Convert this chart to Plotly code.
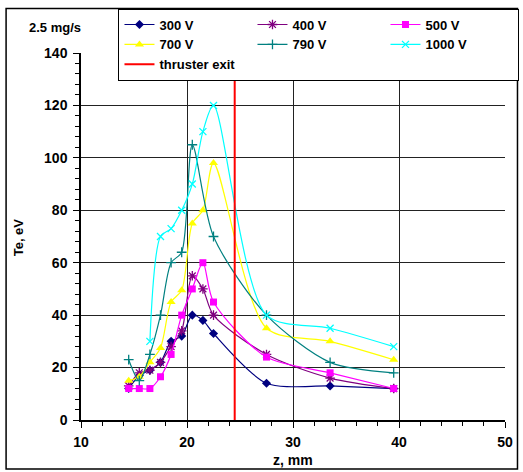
import plotly.graph_objects as go

# ---- data ----
z_main = [14.5, 15.5, 16.5, 17.5, 18.5, 19.5, 20.5, 21.5, 22.5, 27.5, 33.5, 39.5]
te_300 = [12, 17, 19, 22, 30, 32, 40, 38, 33, 14, 13, 12]
te_400 = [13, 18, 19, 22, 28, 34, 55, 50, 40, 25, 16, 12]
te_500 = [12, 12, 12, 16.5, 25, 40, 50, 60, 45, 24, 18, 12]
te_700 = [15, 16.5, 22, 27.5, 45, 49.5, 75, 80, 98, 35, 30, 23]
z_790 = [14.5, 15.5, 16.5, 17.5, 18.5, 19.5, 20.5, 22.5, 27.5, 33.5, 39.5]
te_790 = [23, 15, 25, 40, 60, 64, 105, 70, 40, 22, 18]
z_1000 = [16.5, 17.5, 18.5, 19.5, 20.5, 21.5, 22.5, 27.5, 33.5, 39.5]
te_1000 = [30, 70, 73, 80, 90, 110, 120, 40, 35, 28]
exit_z = [24.5, 24.5]
exit_te = [0, 140]

FONT = "Arial, Liberation Sans, sans-serif"

series = [
    ("300 V", z_main, te_300, "#000080", dict(symbol="diamond", size=7)),
    ("400 V", z_main, te_400, "#800080", dict(symbol="asterisk-open", size=8, line=dict(width=1.3, color="#800080"))),
    ("500 V", z_main, te_500, "#FF00FF", dict(symbol="square", size=7)),
    ("700 V", z_main, te_700, "#FFFF00", dict(symbol="triangle-up", size=8)),
    ("790 V", z_790, te_790, "#008080", dict(symbol="cross-thin-open", size=7, line=dict(width=1.3, color="#008080"))),
    ("1000 V", z_1000, te_1000, "#00FFFF", dict(symbol="x-thin-open", size=7, line=dict(width=1.3, color="#00FFFF"))),
]

fig = go.Figure()
for name, zx, ty, col, mk in series:
    mk = dict(mk)
    mk.setdefault("color", col)
    fig.add_trace(go.Scatter(
        x=zx, y=ty, name=name, mode="lines+markers",
        line=dict(color=col, width=1.2, shape="spline", smoothing=0.8),
        marker=mk,
    ))

fig.add_trace(go.Scatter(
    x=exit_z, y=exit_te, name="thruster exit", mode="lines",
    line=dict(color="#FF0000", width=2),
))

W, H = 523, 472
L, R, T, B = 81, 17.5, 52.5, 52
pw = W - L - R
ph = H - T - B

def px_x(p):
    return (p - L) / pw

def px_y(p):
    return (H - B - p) / ph

BOLD = dict(family=FONT, size=14, color="black", weight="bold")

fig.update_layout(
    width=W, height=H,
    margin=dict(l=L, r=R, t=T, b=B, pad=0, autoexpand=False),
    paper_bgcolor="white", plot_bgcolor="white",
    font=BOLD,
    showlegend=True,
    legend=dict(
        orientation="h",
        x=px_x(520), y=px_y(8), xanchor="right", yanchor="top",
        bgcolor="white", bordercolor="black", borderwidth=1,
        font=dict(family=FONT, size=13, color="black", weight="bold"),
        entrywidth=88, entrywidthmode="pixels",
        itemwidth=30, tracegroupgap=0,
    ),
    xaxis=dict(
        range=[10, 50], dtick=10, tick0=10,
        showgrid=True, gridcolor="#222222", gridwidth=1,
        showline=True, linecolor="black", linewidth=1.5,
        ticks="outside", ticklen=6, tickcolor="black",
        minor=dict(dtick=2, ticks="outside", ticklen=4, tickcolor="black", showgrid=False),
        tickfont=BOLD,
        ticklabelstandoff=2,
        zeroline=False,
    ),
    yaxis=dict(
        range=[0, 140], dtick=20,
        showgrid=True, gridcolor="#222222", gridwidth=1,
        showline=True, linecolor="black", linewidth=1.5,
        ticks="outside", ticklen=6, tickcolor="black",
        minor=dict(dtick=4, ticks="outside", ticklen=4, tickcolor="black", showgrid=False),
        tickfont=BOLD,
        ticklabelstandoff=3,
        zeroline=False,
    ),
)

fig.add_shape(type="rect", xref="paper", yref="paper",
              x0=px_x(6), x1=px_x(518), y0=px_y(469), y1=px_y(8),
              line=dict(color="black", width=1.5), fillcolor="rgba(0,0,0,0)", layer="below")

fig.add_annotation(text="2.5 mg/s", xref="paper", yref="paper",
                   x=px_x(55), y=px_y(27), xanchor="center", yanchor="middle",
                   showarrow=False,
                   font=dict(family=FONT, size=13, color="black", weight="bold"))
fig.add_annotation(text="z, mm", xref="paper", yref="paper",
                   x=px_x(293), y=px_y(460), xanchor="center", yanchor="middle",
                   showarrow=False, font=BOLD)
fig.add_annotation(text="Te, eV", xref="paper", yref="paper",
                   x=px_x(18), y=px_y(237), xanchor="center", yanchor="middle",
                   showarrow=False, textangle=-90,
                   font=dict(family=FONT, size=13, color="black", weight="bold"))

fig.write_html("out.html",
               config={"displayModeBar": False},
               post_script="document.body.style.margin='0';document.body.style.padding='0';")
